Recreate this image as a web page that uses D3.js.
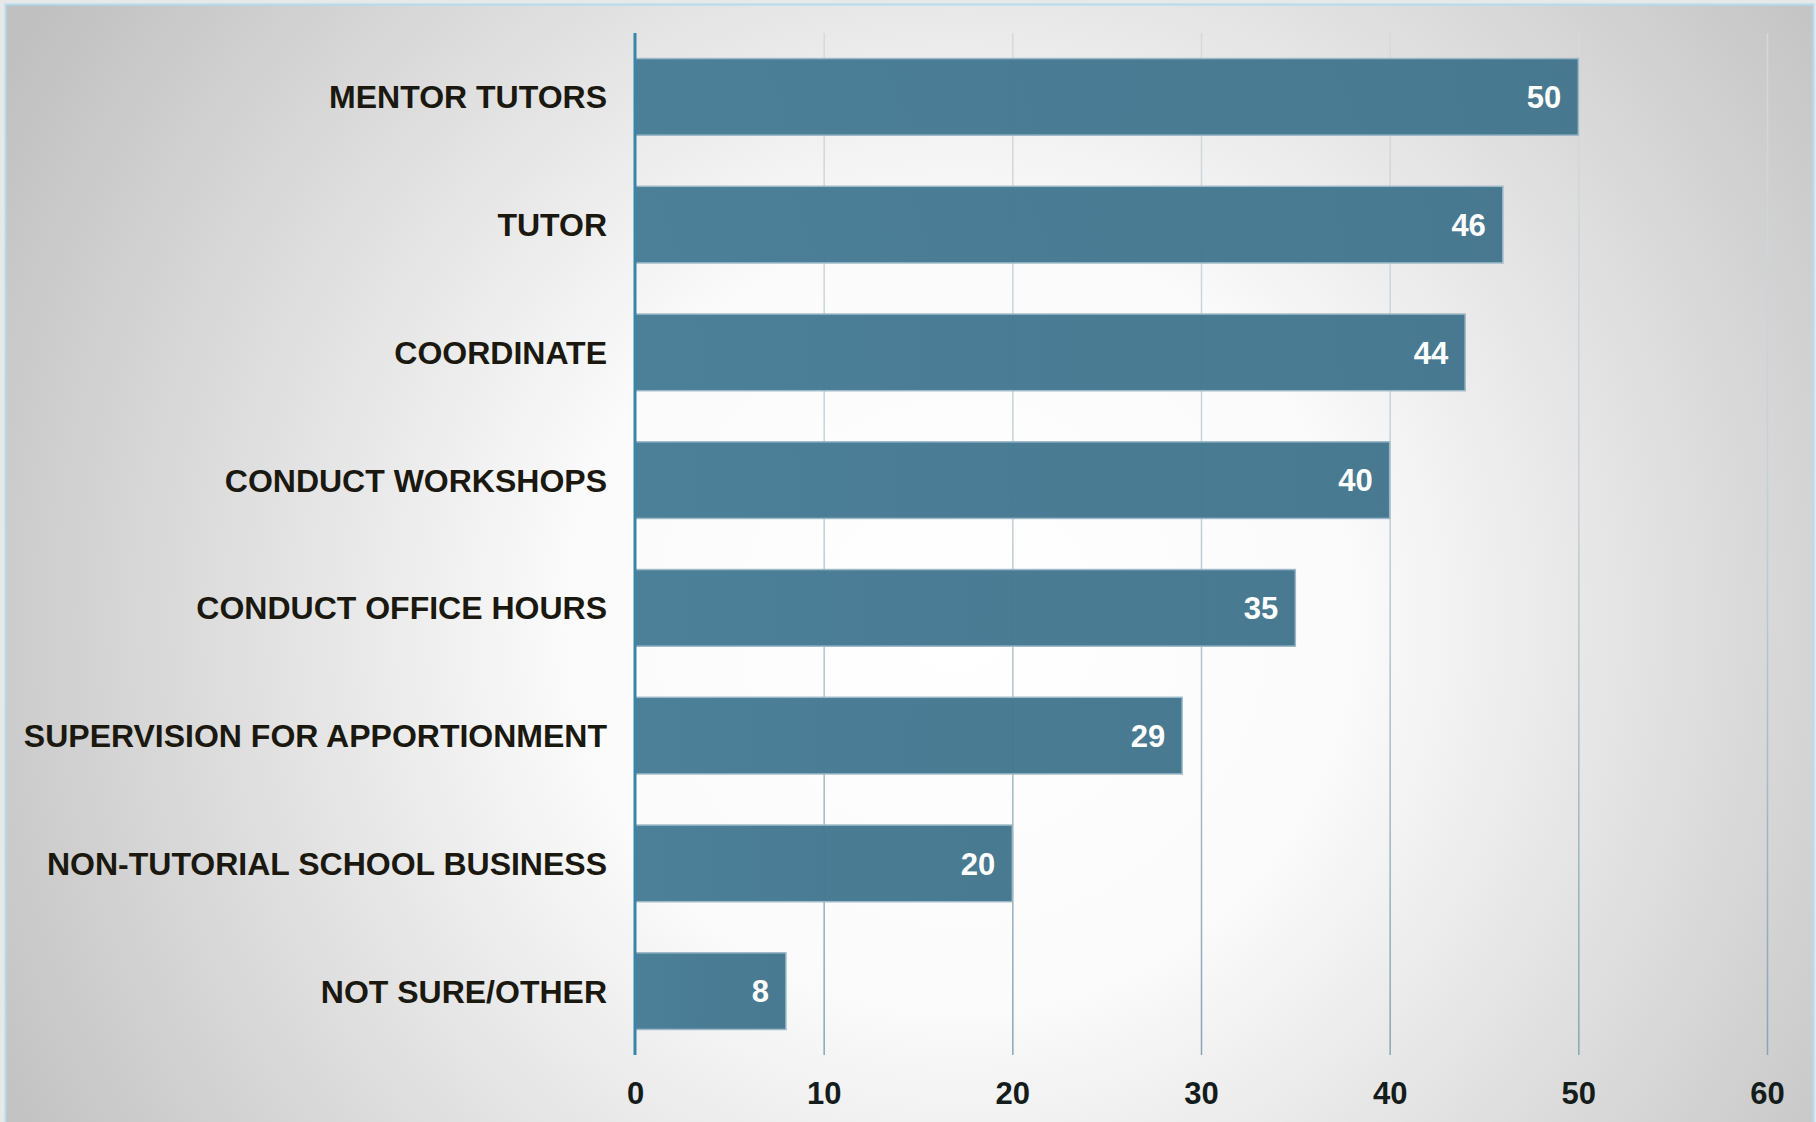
<!DOCTYPE html>
<html>
<head>
<meta charset="utf-8">
<script src="https://cdn.jsdelivr.net/npm/d3@7"></script>
<style>
  html, body { margin: 0; padding: 0; background: #e8e8e8; }
  svg { display: block; }
  text { font-family: "Liberation Sans", Arial, sans-serif; font-weight: bold; }
</style>
</head>
<body>
<div id="chart"></div>
<script>
var categories = ["MENTOR TUTORS", "TUTOR", "COORDINATE", "CONDUCT WORKSHOPS", "CONDUCT OFFICE HOURS",
  "SUPERVISION FOR APPORTIONMENT", "NON-TUTORIAL SCHOOL BUSINESS", "NOT SURE/OTHER"];
var values = [50, 46, 44, 40, 35, 29, 20, 8];
var xTicks = [0, 10, 20, 30, 40, 50, 60];

var width = 1816, height = 1122,
    plotLeft = 635, plotRight = 1767, plotTop = 33, plotBottom = 1055;

var svg = d3.select("#chart").append("svg")
    .attr("width", width)
    .attr("height", height);

var defs = svg.append("defs");
var bg = defs.append("radialGradient")
    .attr("id", "bg")
    .attr("gradientUnits", "userSpaceOnUse")
    .attr("cx", 960).attr("cy", 620).attr("r", 1100);
bg.append("stop").attr("offset", "0%").attr("stop-color", "#ffffff");
bg.append("stop").attr("offset", "35%").attr("stop-color", "#fbfbfb");
bg.append("stop").attr("offset", "100%").attr("stop-color", "#c0c0c0");

// gridline colour fades from grey at the top to blue-grey at the bottom
var gridGrad = defs.append("linearGradient")
    .attr("id", "gridGrad")
    .attr("gradientUnits", "userSpaceOnUse")
    .attr("x1", 0).attr("y1", -(plotBottom - plotTop)).attr("x2", 0).attr("y2", 0);
gridGrad.append("stop").attr("offset", "0%").attr("stop-color", "#d8d8d8");
gridGrad.append("stop").attr("offset", "45%").attr("stop-color", "#c4d1d8");
gridGrad.append("stop").attr("offset", "100%").attr("stop-color", "#87a5b4");

var barGrad = defs.append("linearGradient")
    .attr("id", "barGrad")
    .attr("x1", 0).attr("y1", 0).attr("x2", 1).attr("y2", 0);
barGrad.append("stop").attr("offset", "0%").attr("stop-color", "#467c95");
barGrad.append("stop").attr("offset", "100%").attr("stop-color", "#42758d");

// frame
svg.append("rect")
    .attr("x", 5.5).attr("y", 4.5)
    .attr("width", 1808).attr("height", 1130)
    .attr("fill", "url(#bg)")
    .attr("stroke", "#b3dcef")
    .attr("stroke-width", 2);

var xScale = d3.scaleLinear().domain([0, 60]).range([plotLeft, plotRight]);
var yScale = d3.scaleBand().domain(categories).range([plotTop, plotBottom])
    .paddingInner(0.4).paddingOuter(0.2);

// gridlines
svg.append("g")
    .attr("class", "grid")
    .attr("transform", "translate(0," + plotBottom + ")")
    .call(d3.axisBottom(xScale).tickValues(xTicks.slice(1)).tickSize(-(plotBottom - plotTop)).tickFormat(""))
    .call(function(g) { g.select(".domain").remove(); })
    .selectAll("line")
    .attr("stroke", "url(#gridGrad)")
    .attr("stroke-width", 1.5);

// bars
svg.selectAll(".bar")
    .data(values)
    .enter().append("rect")
    .attr("class", "bar")
    .attr("x", xScale(0))
    .attr("y", function(d, i) { return yScale(categories[i]); })
    .attr("width", function(d) { return xScale(d) - xScale(0); })
    .attr("height", yScale.bandwidth())
    .attr("fill", "url(#barGrad)")
    .attr("fill-opacity", 0.97)
    .attr("stroke", "#9cb8c7")
    .attr("stroke-width", 1.5);

// value labels
svg.selectAll(".val")
    .data(values)
    .enter().append("text")
    .attr("class", "val")
    .attr("x", function(d) { return xScale(d) - 17; })
    .attr("y", function(d, i) { return yScale(categories[i]) + yScale.bandwidth() / 2; })
    .attr("dy", "0.36em")
    .attr("text-anchor", "end")
    .attr("fill", "#ffffff")
    .style("font-size", "31px")
    .text(function(d) { return d; });

// zero axis line
svg.append("line")
    .attr("x1", xScale(0)).attr("x2", xScale(0))
    .attr("y1", plotTop).attr("y2", plotBottom)
    .attr("stroke", "#3985a8")
    .attr("stroke-width", 3);

// y axis labels
svg.append("g")
    .attr("transform", "translate(" + plotLeft + ",0)")
    .call(d3.axisLeft(yScale).tickSize(0).tickPadding(28))
    .call(function(g) { g.select(".domain").remove(); })
    .selectAll("text")
    .attr("dy", "0.36em")
    .attr("fill", "#1a180f")
    .style("font-size", "32px")
    .style("font-family", "'Liberation Sans', Arial, sans-serif")
    .style("font-weight", "bold");

// x axis labels
svg.append("g")
    .attr("transform", "translate(0," + plotBottom + ")")
    .call(d3.axisBottom(xScale).tickValues(xTicks).tickSize(0).tickPadding(27))
    .call(function(g) { g.select(".domain").remove(); })
    .selectAll("text")
    .attr("dy", "0.71em")
    .attr("fill", "#141c1c")
    .style("font-size", "31px")
    .style("font-family", "'Liberation Sans', Arial, sans-serif")
    .style("font-weight", "bold");
</script>
</body>
</html>
